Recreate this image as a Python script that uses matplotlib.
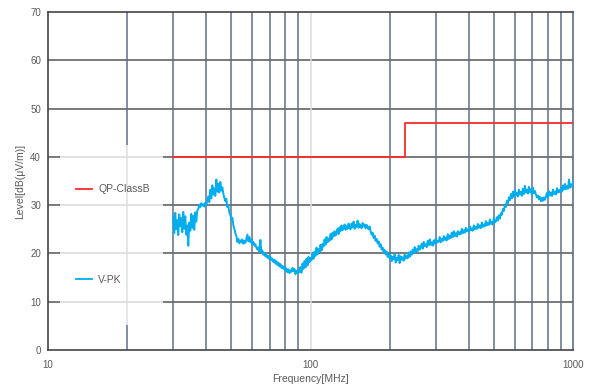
import numpy as np
import matplotlib
matplotlib.use("Agg")
import matplotlib.pyplot as plt
from matplotlib.patches import Rectangle

plt.rcParams['font.family'] = ['Liberation Sans', 'DejaVu Sans']

# QP Class B limit (step at 230 MHz)
limit_freq_mhz = [30, 230, 230, 1000]
limit_level_dbuv = [40, 40, 47, 47]

# Peak sweep, 30 MHz .. 1 GHz, log-spaced points
peak_level_dbuv = [
    # 30 - 40 MHz
    27.6, 24.2, 28.4, 25.0, 26.9, 23.8, 28.1, 25.6, 27.3, 24.4, 28.6, 25.1, 27.7, 23.9, 25.8,
    21.6, 26.4, 24.7, 28.2, 25.3, 27.8, 24.9, 28.5, 26.6, 28.9,
    29.2, 30.1, 29.6, 30.4, 29.9, 30.2, 29.7, 30.5, 30.0, 30.9,
    # 40 - 50 MHz
    31.8, 30.6, 33.2, 31.4, 34.1, 32.2, 33.5, 31.9, 35.3, 32.8, 34.4, 32.6, 34.8, 33.0, 33.7,
    32.4, 31.5,
    30.8, 31.3, 29.6, 29.9, 28.4, 28.0, 26.9, 27.4, 25.8, 25.1, 24.2, 23.6,
    # 50 - 70 MHz
    22.4, 23.0, 22.1, 22.7, 22.3, 22.9, 22.0, 22.6, 22.2, 23.1, 23.9, 22.5, 23.4, 22.3, 22.9,
    22.0, 22.4, 21.6, 21.9, 21.2,
    20.8, 21.3, 20.4, 22.8, 20.2, 20.6, 19.7, 20.1, 19.4, 19.8, 19.1, 19.5, 18.8, 19.3, 18.6,
    18.9, 18.2, 18.7, 17.9, 18.4, 17.6, 18.1, 17.3, 17.8, 17.0, 17.4,
    # 75 - 95 MHz
    16.8, 17.3, 16.4, 16.9, 16.1, 16.7, 15.9, 16.5, 16.2, 17.0, 16.3, 16.8, 15.7, 16.4, 15.9,
    16.6, 16.1,
    # 95 - 120 MHz
    17.2, 16.0, 17.9, 16.8, 18.4, 17.1, 18.9, 17.5, 19.3, 18.2, 19.0, 18.6, 20.1, 18.9, 20.4,
    19.5, 21.2, 19.8, 20.9, 20.3, 21.8, 20.6, 22.0,
    21.4, 22.9, 21.8, 23.4, 22.3, 23.1, 22.6, 24.0, 22.9, 24.3, 23.5, 24.6, 23.7, 24.2, 25.1,
    24.0, 25.4, 24.6, 25.8, 24.8, 25.2, 26.0, 24.9, 25.7, 25.1, 26.2, 25.3,
    # 150 - 180 MHz
    25.0, 26.2, 25.4, 26.6, 25.1, 25.9, 25.5, 26.8, 25.3, 26.1, 25.7, 25.2, 26.3, 25.6, 26.0,
    25.2, 25.9, 25.4, 25.0, 25.6,
    24.6, 23.9, 24.3, 23.2, 23.7, 22.6, 23.0, 22.1, 22.5, 21.4, 21.9, 20.8, 21.2, 20.3, 20.7,
    19.8, 20.4, 19.3, 19.9, 19.0,
    # 200 - 250 MHz
    19.6, 18.4, 19.3, 18.8, 19.9, 18.1, 19.1, 18.6, 19.7, 18.0, 19.4, 18.7, 19.2, 18.5, 19.8,
    18.9, 19.5, 19.0, 20.2, 19.3,
    20.4, 19.7, 20.8, 20.1, 21.3, 20.2, 20.9, 20.5, 21.6, 20.8,
    # 250 - 500 MHz
    21.2, 22.0, 21.0, 22.4, 21.5, 21.9, 21.3, 22.6, 21.7, 22.9, 21.8, 22.3, 21.6, 22.7, 22.0,
    23.1, 22.2, 22.6, 22.4, 23.4, 22.3, 23.0, 22.6, 23.6, 22.8, 23.3, 22.7, 24.0, 23.0, 23.7,
    23.2, 24.3, 23.4, 24.6, 23.6,
    24.2, 23.5, 24.6, 23.9, 24.4, 24.0, 25.1, 24.2, 24.8, 24.3, 25.3, 24.6, 25.0, 24.4, 25.6,
    24.8, 25.2, 24.7, 25.8, 25.0, 25.5, 25.1, 26.1, 25.3, 25.8, 25.2, 26.4, 25.5, 26.0, 25.6,
    26.7, 25.8, 26.3, 25.9, 27.0, 26.1, 26.5, 26.0, 27.3, 26.4,
    # 500 - 700 MHz
    26.6, 27.5, 26.8, 27.9, 27.2, 28.3, 28.0, 29.2, 28.8, 30.1, 29.6, 30.9, 30.4, 31.6, 31.0,
    32.3, 31.4, 32.8, 31.7, 33.0, 32.1, 32.6, 31.8, 33.2, 32.2,
    32.8, 31.9, 33.4, 32.3, 34.0, 32.6, 33.2, 32.4, 33.8, 32.7, 33.3, 32.1, 33.6, 32.5, 32.9,
    32.2, 31.6, 32.0, 31.2, 31.7, 30.8, 31.5, 30.9, 31.6, 31.1,
    # 700 - 1000 MHz
    31.8, 32.5, 31.6, 32.9, 32.0, 32.6, 31.9, 33.2, 32.3, 32.8, 32.2, 33.5, 32.6, 33.1, 32.7,
    33.5, 32.8, 34.1, 33.2, 34.4, 33.3, 33.9, 33.4, 35.3, 33.6, 34.3, 33.8, 34.9,
]
sweep_start_mhz, sweep_stop_mhz = 30, 1000
peak_freq_mhz = np.geomspace(sweep_start_mhz, sweep_stop_mhz, len(peak_level_dbuv))

y_ticks = [0, 10, 20, 30, 40, 50, 60, 70]
x_ticks = [10, 100, 1000]
x_tick_labels = ["10", "100", "1000"]

text_color = "#5a5a5a"

fig = plt.figure(figsize=(5.93, 3.89), dpi=100)
ax = fig.add_axes([48 / 593, 1 - 350 / 389, 525 / 593, 338 / 389])

ax.set_xscale("log")
ax.set_xlim(10, 1000)
ax.set_ylim(0, 70)

# grid: dark horizontal lines, slate minor verticals, pale decade line
for yv in y_ticks[1:-1]:
    ax.axhline(yv, color="#555555", lw=1.1, zorder=1)
minor_f = [m * d for d in (10, 100) for m in range(2, 10)]
for fv in minor_f:
    ax.axvline(fv, color="#5d7087", lw=1.1, zorder=1)
ax.axvline(100, color="#dcdcdc", lw=1.1, zorder=1)

# translucent legend panel
ax.add_patch(Rectangle((0.023, 0.074), 0.196, 0.533, transform=ax.transAxes,
                       facecolor="white", alpha=0.78, edgecolor="none", zorder=2))

ax.plot(limit_freq_mhz, limit_level_dbuv, color="#ff2a2a", lw=1.3, zorder=4,
        label="QP-ClassB")
ax.plot(peak_freq_mhz, peak_level_dbuv, color="#00aeef", lw=1.4, zorder=3,
        label="V-PK")

leg = ax.legend(loc="upper left", bbox_to_anchor=(0.053, 0.49), frameon=False,
                fontsize=7.5, labelspacing=7.7, handlelength=1.6, handletextpad=0.55,
                borderaxespad=0, borderpad=0)
for line in leg.get_lines():
    line.set_linewidth(1.3)
for t in leg.get_texts():
    t.set_color(text_color)

for side in ("left", "bottom", "top"):
    ax.spines[side].set_color("#444444")
    ax.spines[side].set_linewidth(1.2)
ax.spines["right"].set_color("#5d7087")
ax.spines["right"].set_linewidth(1.2)

ax.set_yticks(y_ticks)
ax.set_xticks(x_ticks)
ax.set_xticklabels(x_tick_labels)
ax.xaxis.set_minor_locator(matplotlib.ticker.NullLocator())
ax.tick_params(axis="both", length=0, labelsize=7, labelcolor=text_color)
ax.tick_params(axis="x", pad=7)
ax.tick_params(axis="y", pad=5)

ax.set_xlabel("Frequency[MHz]", fontsize=7.5, color=text_color, labelpad=3)
ax.set_ylabel("Level[dB(μV/m)]", fontsize=7.5, color=text_color, labelpad=4)

fig.savefig("out.png", dpi=100)
